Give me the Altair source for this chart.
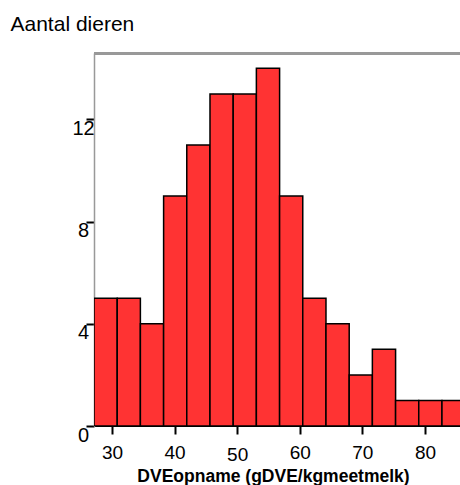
import altair as alt
import pandas as pd

# Histogram bins (lower/upper edges) and counts
bin_start = [27.13, 30.84, 34.54, 38.25, 41.95, 45.66, 49.37, 53.07, 56.78, 60.48, 64.19, 67.90, 71.60, 75.31, 79.01, 82.72]
bin_end = [30.84, 34.54, 38.25, 41.95, 45.66, 49.37, 53.07, 56.78, 60.48, 64.19, 67.90, 71.60, 75.31, 79.01, 82.72, 86.42]
counts = [5, 5, 4, 9, 11, 13, 13, 14, 9, 5, 4, 2, 3, 1, 1, 1]
x_ticks = [30, 40, 50, 60, 70, 80]
y_ticks = [0, 4, 8, 12]

df = pd.DataFrame({"start": bin_start, "end": bin_end, "count": counts})

FONT = "Liberation Sans"
W, H = 366, 373

bars = alt.Chart(df).mark_rect(
    fill="#FF3333", stroke="black", strokeWidth=1.5, clip=True
).encode(
    x=alt.X(
        "start:Q",
        scale=alt.Scale(domain=[27.13, 85.6], nice=False, zero=False),
        axis=alt.Axis(
            values=x_ticks,
            title="DVEopname (gDVE/kgmeetmelk)",
            titleFont=FONT, titleFontSize=17.5, titleFontWeight="bold", titleColor="black",
            titleX=179, titleY=55, titleBaseline="alphabetic", titleAnchor="start", titleAlign="center",
            labelFont=FONT, labelFontSize=19, labelColor="black",
            labelBaseline="top",
            labelPadding={"condition": {"test": "datum.value === 50", "value": 11.5}, "value": 9.5},
            tickColor="black", tickWidth=2, tickSize=8,
            domain=True, domainColor="black", domainWidth=1,
            grid=False, labelFlush=False, labelOverlap=False,
        ),
    ),
    x2="end:Q",
    y=alt.Y(
        "count:Q",
        scale=alt.Scale(domain=[0, 14.6], nice=False),
        axis=alt.Axis(
            values=y_ticks,
            format="d",
            title="Aantal dieren",
            titleAngle=0, titleX=-84, titleY=-23, titleAlign="left", titleBaseline="alphabetic",
            titleFont=FONT, titleFontSize=21, titleFontWeight="normal", titleColor="black",
            labelFont=FONT, labelFontSize=20, labelColor="black",
            labelAlign="center", labelBaseline="top", labelPadding=3, labelOffset=-1,
            tickColor="black", tickWidth=2, tickSize=8,
            domainColor="#999999", domainWidth=1.5,
            grid=False, labelOverlap=False,
        ),
    ),
    y2=alt.datum(0),
)

top_line = alt.Chart(df).mark_rule(color="#999999", strokeWidth=1.6).encode(
    x=alt.value(0), x2=alt.value(W), y=alt.value(0.5)
)

chart = alt.layer(top_line, bars).properties(
    width=W, height=H,
    autosize=alt.AutoSizeParams(type="none"),
    padding={"left": 94, "top": 53, "right": 0, "bottom": 59},
    background="white",
).configure_view(stroke=None)

chart.save("out.html", embed_options={"renderer": "svg", "actions": False})
